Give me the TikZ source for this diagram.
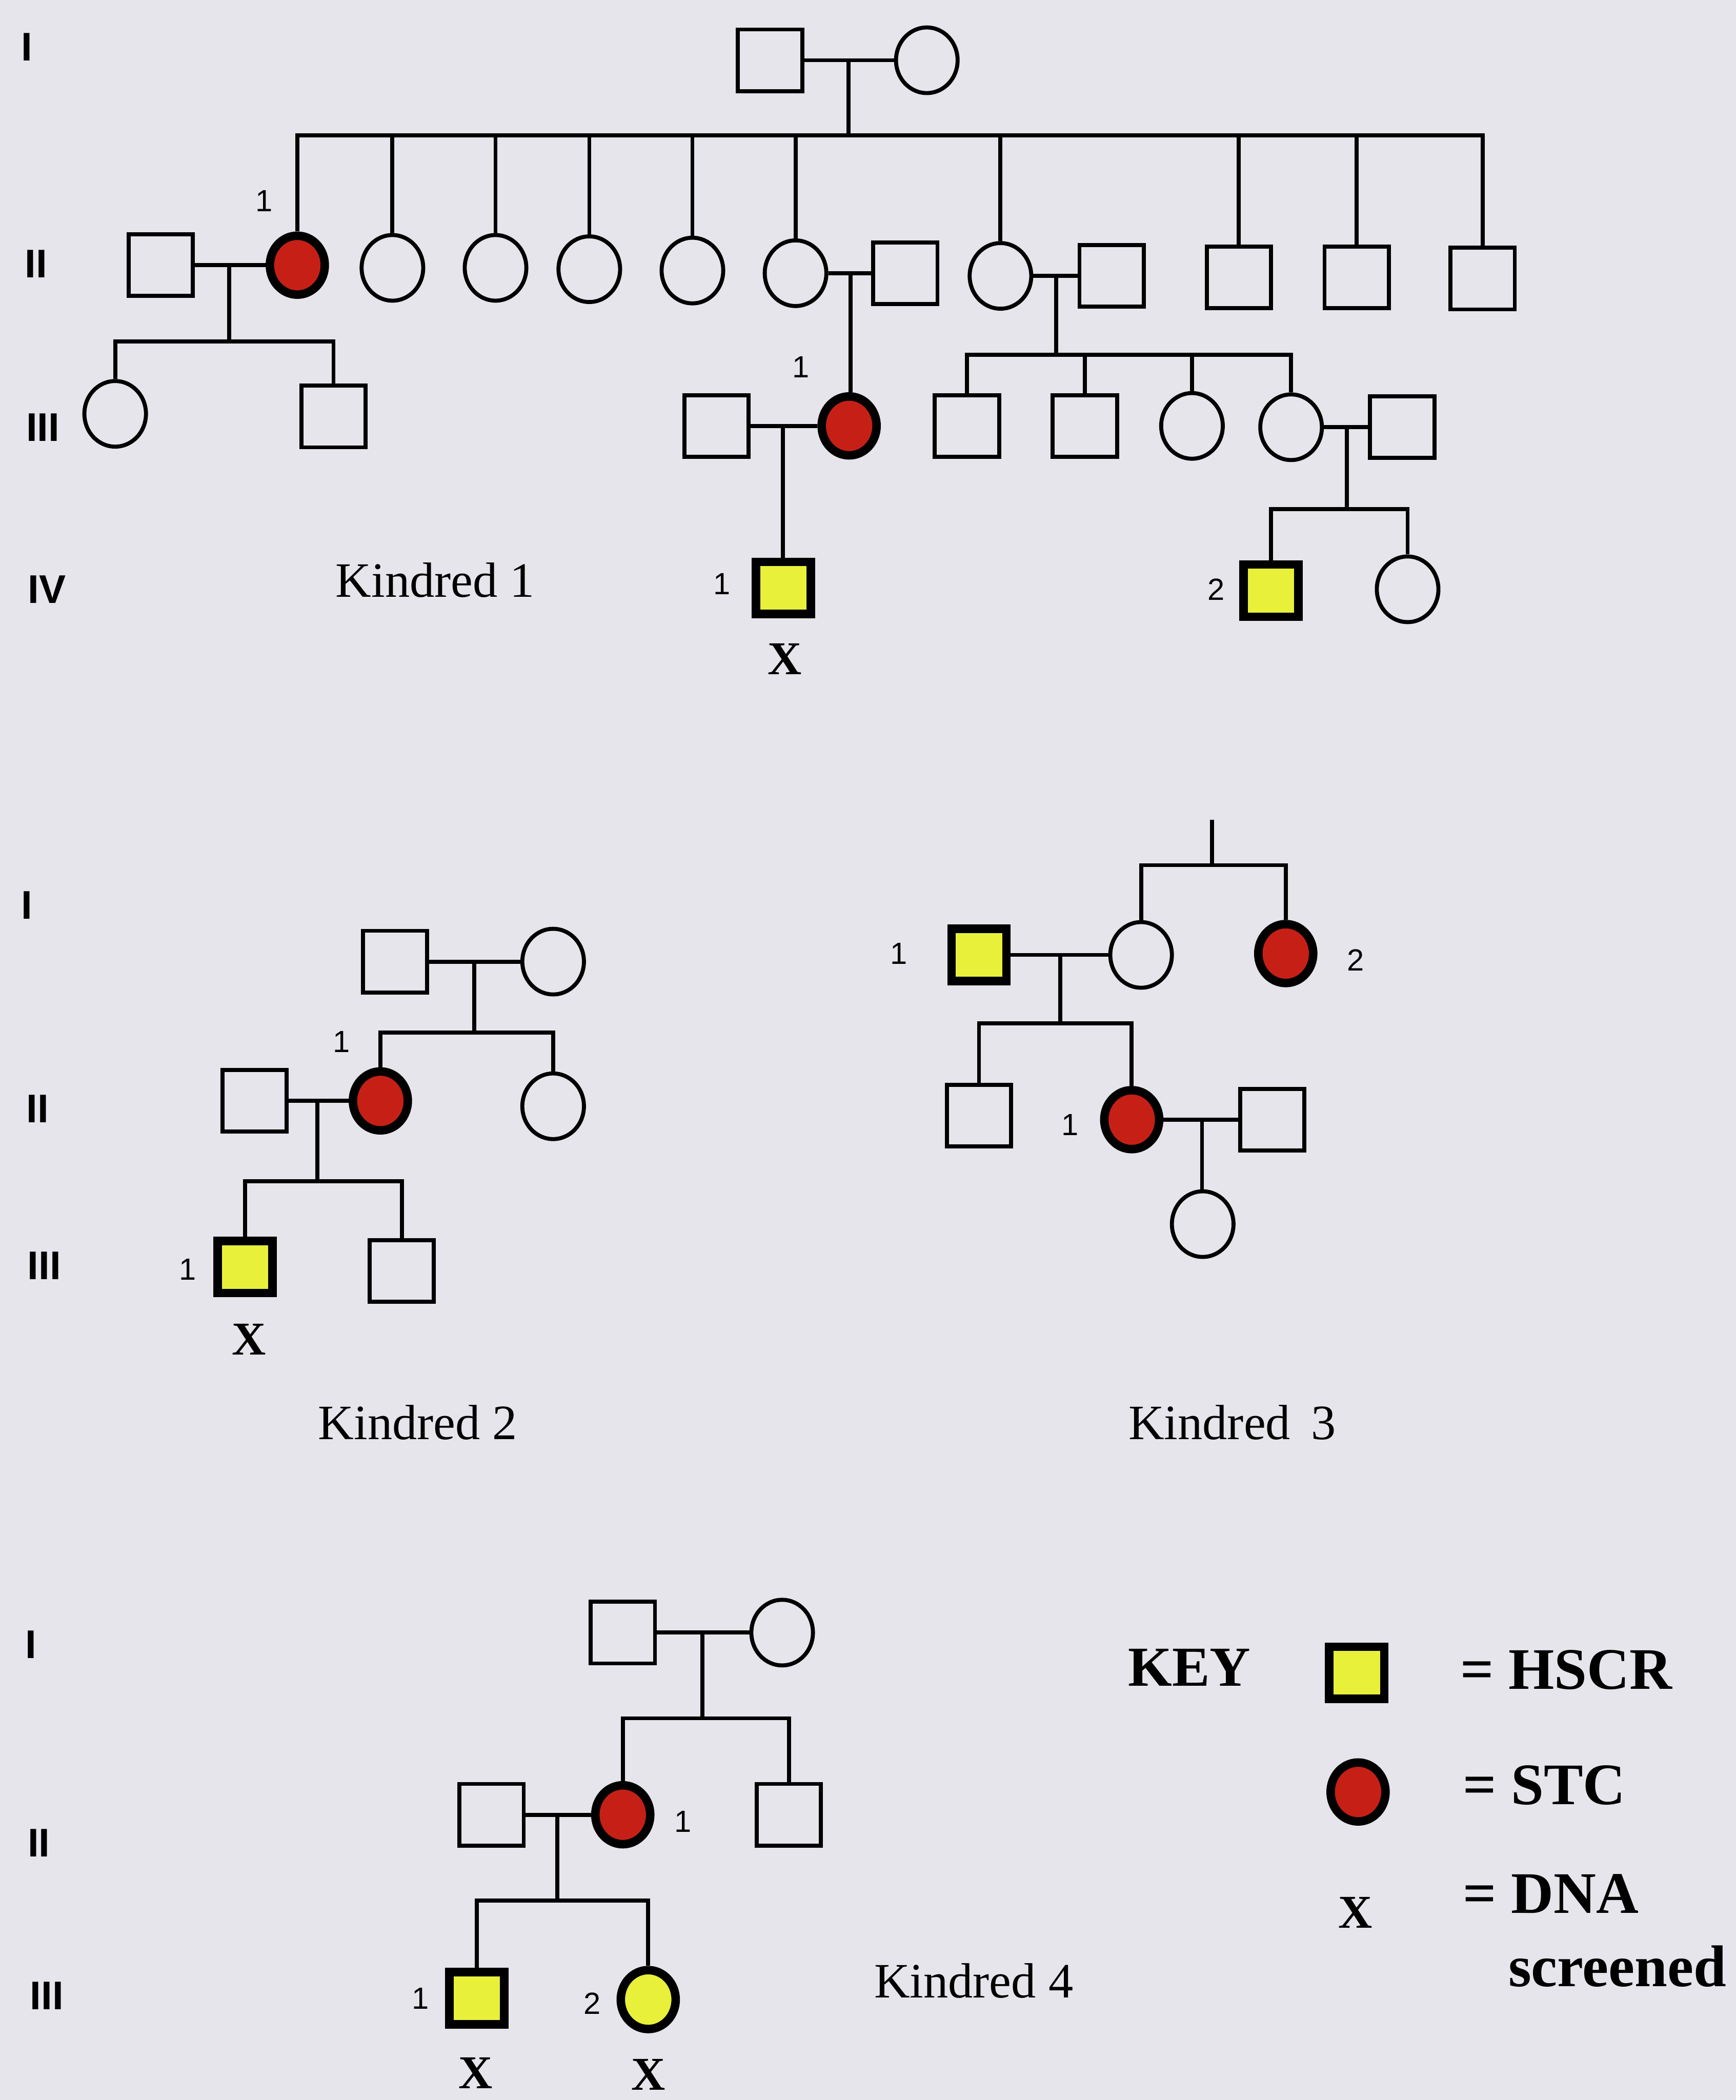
\documentclass[tikz,border=0pt]{standalone}
\usepackage{fontspec}
\setmainfont{Liberation Serif}
\setsansfont{Liberation Sans}
\usetikzlibrary{calc, shapes.geometric}
\definecolor{paper}{RGB}{229,229,235}
\definecolor{hscryellow}{RGB}{232,240,58}
\definecolor{stcred}{RGB}{198,32,22}

\begin{document}
\begin{tikzpicture}[x=0.2mm, y=-0.2mm, line width=1.7pt,
    male/.style={draw, rectangle, minimum width=9.6mm, minimum height=9.2mm, inner sep=0pt},
    female/.style={draw, ellipse, minimum width=9.2mm, minimum height=9.8mm, inner sep=0pt},
    hscrm/.style={male, fill=hscryellow, line width=3.6pt, minimum width=8.2mm, minimum height=7.8mm},
    hscrf/.style={female, fill=hscryellow, line width=3.6pt, minimum width=8.2mm, minimum height=8.8mm},
    stcf/.style={female, fill=stcred, line width=3.6pt, minimum width=8.2mm, minimum height=8.8mm},
    gen/.style={font=\sffamily\bfseries\fontsize{17}{20}\selectfont},
    num/.style={font=\sffamily\fontsize{13}{15}\selectfont},
    kin/.style={font=\fontsize{21}{25}\selectfont},
    dna/.style={font=\bfseries\fontsize{20}{24}\selectfont},
    keytxt/.style={font=\bfseries\fontsize{25}{30}\selectfont, anchor=west}]
  \fill[paper] (0,0) rectangle (1296,1568);
  \useasboundingbox (0,0) rectangle (1296,1568);

  % ---------------- Kindred 1 ----------------
  \node[gen] (g1a) at (20,35) {I};
  \node[gen] (g1b) at (27,197) {II};
  \node[gen] (g1c) at (32,319) {III};
  \node[gen] (g1d) at (35,440) {IV};
  % generation I
  \node[male] (k1f) at (575,45) {};
  \node[female] (k1m) at (692,45) {};
  \draw (k1f) -- (k1m);
  \coordinate (k1c1) at ($(k1f)!.5!(k1m)$);
  \coordinate (k1s1) at (0,101);
  \draw (k1c1) -- (k1c1 |- k1s1);
  % generation II
  \node[male] (k1h1) at (120,198) {};
  \node[stcf] (k1d1) at (222,198) {};
  \node[num] at (197,150) {1};
  \node[female] (k1d2) at (293,200) {};
  \node[female] (k1d3) at (370,200) {};
  \node[female] (k1d4) at (440,201) {};
  \node[female] (k1d5) at (517,202) {};
  \node[female] (k1d6) at (594,204) {};
  \node[male] (k1h6) at (676,204) {};
  \node[female] (k1d7) at (747,206) {};
  \node[male] (k1h7) at (830,206) {};
  \node[male] (k1s8) at (925,207) {};
  \node[male] (k1s9) at (1013,207) {};
  \node[male] (k1s10) at (1107,208) {};
  \draw (k1d1.north) -- (k1d1.north |- k1s1) -- (k1s10.north |- k1s1) -- (k1s10.north);
  \foreach \n in {k1d2,k1d3,k1d4,k1d5,k1d6,k1d7,k1s8,k1s9}
    \draw (\n.north) -- (\n.north |- k1s1);
  \draw (k1h1) -- (k1d1);
  \draw (k1d6) -- (k1h6);
  \draw (k1d7) -- (k1h7);
  % generation III
  \coordinate (k1c2) at ($(k1h1)!.5!(k1d1)$);
  \coordinate (k1s2) at (0,255);
  \node[female] (k1g1) at (86,309) {};
  \node[male] (k1g2) at (249,311) {};
  \draw (k1c2) -- (k1c2 |- k1s2);
  \draw (k1g1.north) -- (k1g1.north |- k1s2) -- (k1g2.north |- k1s2) -- (k1g2.north);

  \coordinate (k1c3) at ($(k1d6)!.5!(k1h6)$);
  \node[male] (k1h3) at (535,318) {};
  \node[stcf] (k1r1) at (634,318) {};
  \node[num] at (598,274) {1};
  \draw (k1c3) -- (k1c3 |- k1r1.north);
  \draw (k1h3) -- (k1r1);

  \coordinate (k1c4) at ($(k1d7)!.5!(k1h7)$);
  \coordinate (k1s3) at (0,265);
  \node[male] (k1n1) at (722,318) {};
  \node[male] (k1n2) at (810,318) {};
  \node[female] (k1n3) at (890,318) {};
  \node[female] (k1n4) at (964,319) {};
  \node[male] (k1h4) at (1047,319) {};
  \draw (k1c4) -- (k1c4 |- k1s3);
  \draw (k1n1.north) -- (k1n1.north |- k1s3) -- (k1n4.north |- k1s3) -- (k1n4.north);
  \foreach \n in {k1n2,k1n3}
    \draw (\n.north) -- (\n.north |- k1s3);
  \draw (k1n4) -- (k1h4);
  % generation IV
  \coordinate (k1c5) at ($(k1h3)!.5!(k1r1)$);
  \node[hscrm] (k1p1) at (585,439) {};
  \node[num] at (539,436) {1};
  \node[dna] at (586,492) {X};
  \draw (k1c5) -- (k1c5 |- k1p1.north);

  \coordinate (k1c6) at ($(k1n4)!.5!(k1h4)$);
  \coordinate (k1s4) at (0,380);
  \node[hscrm] (k1p2) at (949,441) {};
  \node[num] at (908,440) {2};
  \node[female] (k1p3) at (1051,440) {};
  \draw (k1c6) -- (k1c6 |- k1s4);
  \draw (k1p2.north) -- (k1p2.north |- k1s4) -- (k1p3.north |- k1s4) -- (k1p3.north);

  \node[kin] at (325,433) {Kindred 1};

  % ---------------- Kindred 2 ----------------
  \node[gen] (g2a) at (20,676) {I};
  \node[gen] (g2b) at (28,828) {II};
  \node[gen] (g2c) at (33,945) {III};
  \node[male] (k2f) at (295,718) {};
  \node[female] (k2m) at (413,718) {};
  \draw (k2f) -- (k2m);
  \coordinate (k2c1) at ($(k2f)!.5!(k2m)$);
  \coordinate (k2s1) at (0,771);
  \node[male] (k2h1) at (190,822) {};
  \node[stcf] (k2d1) at (284,822) {};
  \node[num] at (255,778) {1};
  \node[female] (k2d2) at (413,826) {};
  \draw (k2c1) -- (k2c1 |- k2s1);
  \draw (k2d1.north) -- (k2d1.north |- k2s1) -- (k2d2.north |- k2s1) -- (k2d2.north);
  \draw (k2h1) -- (k2d1);
  \coordinate (k2c2) at ($(k2h1)!.5!(k2d1)$);
  \coordinate (k2s2) at (0,882);
  \node[hscrm] (k2p1) at (183,946) {};
  \node[num] at (140,948) {1};
  \node[dna] at (186,1000) {X};
  \node[male] (k2p2) at (300,949) {};
  \draw (k2c2) -- (k2c2 |- k2s2);
  \draw (k2p1.north) -- (k2p1.north |- k2s2) -- (k2p2.north |- k2s2) -- (k2p2.north);
  \node[kin] at (312,1062) {Kindred 2};

  % ---------------- Kindred 3 ----------------
  \coordinate (k3top) at (905,612);
  \coordinate (k3s1) at (0,646);
  \node[hscrm] (k3f) at (731,713) {};
  \node[num] at (671,712) {1};
  \node[female] (k3m) at (852,713) {};
  \node[stcf] (k3a) at (960,712) {};
  \node[num] at (1012,717) {2};
  \draw (k3top) -- (k3top |- k3s1);
  \draw (k3m.north) -- (k3m.north |- k3s1) -- (k3a.north |- k3s1) -- (k3a.north);
  \draw (k3f) -- (k3m);
  \coordinate (k3c1) at ($(k3f)!.5!(k3m)$);
  \coordinate (k3s2) at (0,764);
  \node[male] (k3b) at (731,833) {};
  \node[stcf] (k3d) at (845,836) {};
  \node[num] at (799,840) {1};
  \node[male] (k3h) at (950,836) {};
  \draw (k3c1) -- (k3c1 |- k3s2);
  \draw (k3b.north) -- (k3b.north |- k3s2) -- (k3d.north |- k3s2) -- (k3d.north);
  \draw (k3d) -- (k3h);
  \coordinate (k3c2) at ($(k3d)!.5!(k3h)$);
  \node[female] (k3g) at (898,914) {};
  \draw (k3c2) -- (k3c2 |- k3g.north);
  \node[kin] at (920,1062) {Kindred\, 3};

  % ---------------- Kindred 4 ----------------
  \node[gen] (g4a) at (23,1228) {I};
  \node[gen] (g4b) at (29,1376) {II};
  \node[gen] (g4c) at (35,1490) {III};
  \node[male] (k4f) at (465,1219) {};
  \node[female] (k4m) at (584,1219) {};
  \draw (k4f) -- (k4m);
  \coordinate (k4c1) at ($(k4f)!.5!(k4m)$);
  \coordinate (k4s1) at (0,1283);
  \node[male] (k4h) at (367,1355) {};
  \node[stcf] (k4d) at (465,1355) {};
  \node[num] at (510,1360) {1};
  \node[male] (k4b) at (589,1355) {};
  \draw (k4c1) -- (k4c1 |- k4s1);
  \draw (k4d.north) -- (k4d.north |- k4s1) -- (k4b.north |- k4s1) -- (k4b.north);
  \draw (k4h) -- (k4d);
  \coordinate (k4c2) at ($(k4h)!.5!(k4d)$);
  \coordinate (k4s2) at (0,1419);
  \node[hscrm] (k4p1) at (356,1492) {};
  \node[num] at (314,1492) {1};
  \node[hscrf] (k4p2) at (484,1493) {};
  \node[num] at (442,1496) {2};
  \draw (k4c2) -- (k4c2 |- k4s2);
  \draw (k4p1.north) -- (k4p1.north |- k4s2) -- (k4p2.north |- k4s2) -- (k4p2.north);
  \node[dna] at (355,1548) {X};
  \node[dna] at (484,1549) {X};
  \node[kin] at (727,1479) {Kindred 4};

  % ---------------- key ----------------
  \node[font=\bfseries\fontsize{24}{28}\selectfont] (key) at (888,1245) {KEY};
  \node[hscrm] (keyh) at (1013,1249) {};
  \node[keytxt] at (1083,1247) {= HSCR};
  \node[stcf] (keys) at (1014,1338) {};
  \node[keytxt] at (1085,1333) {= STC};
  \node[dna] (keyx) at (1012,1428) {X};
  \node[keytxt] at (1085,1414) {= DNA};
  \node[keytxt] at (1119,1468) {screened};
\end{tikzpicture}
\end{document}
